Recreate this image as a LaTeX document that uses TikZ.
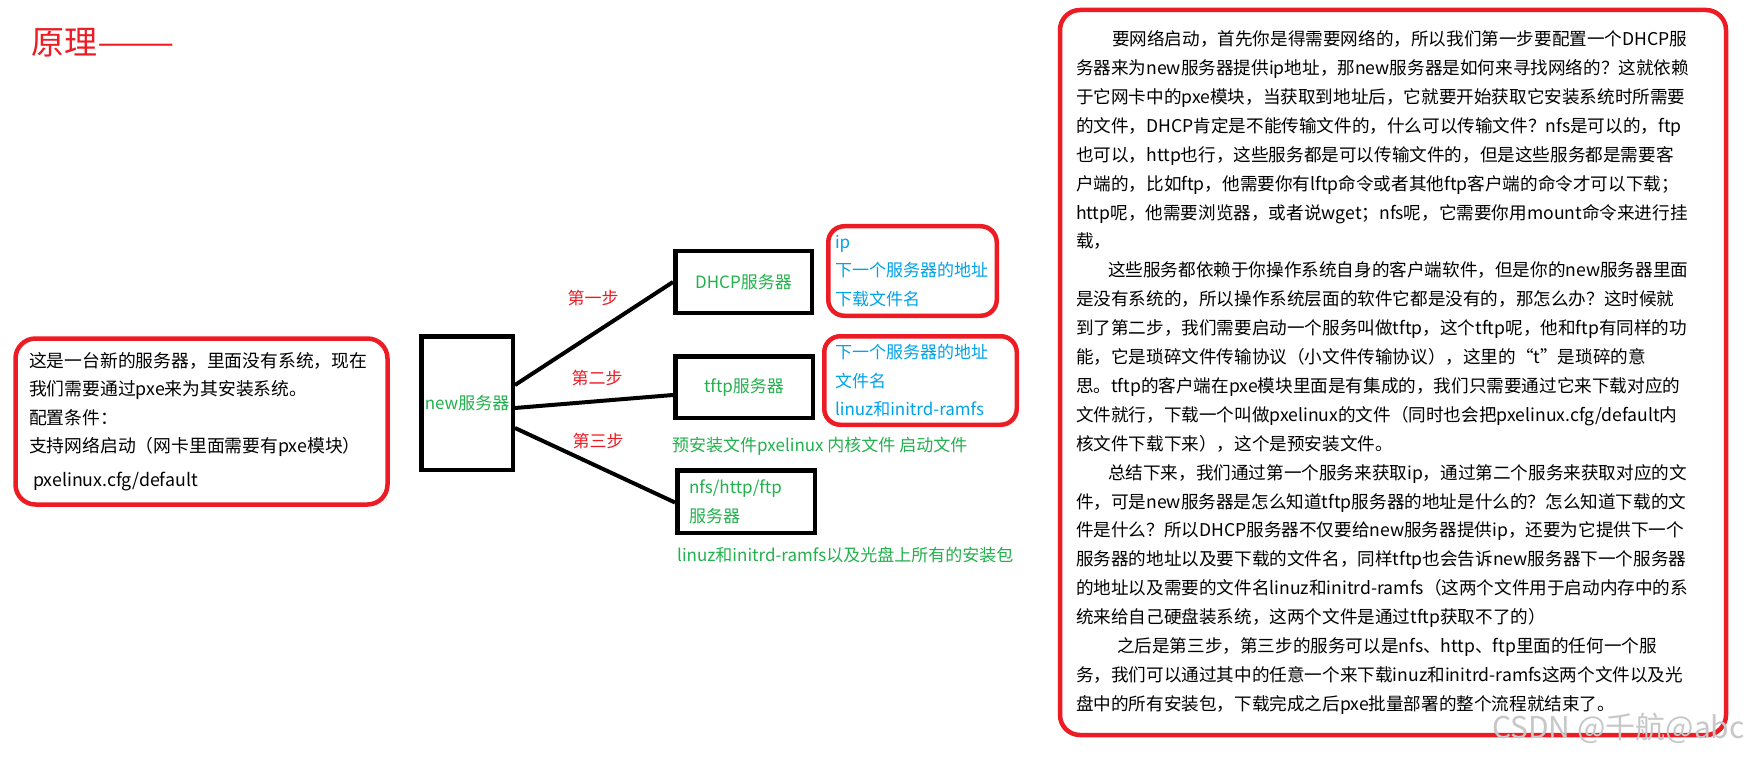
\documentclass[tikz,border=0pt]{standalone}
\usepackage{fontspec}
\setmainfont{Noto Sans CJK SC}
\definecolor{pred}{HTML}{ED1C24}
\definecolor{pgreen}{HTML}{22B14C}
\definecolor{pblue}{HTML}{00A2E8}
\begin{document}
\begin{tikzpicture}[x=1pt, y=-1pt,
  srv/.style={draw, line width=4.5pt, inner sep=0pt, text=pgreen, font=\fontsize{17}{29}\selectfont},
  note/.style={draw=pred, line width=4.5pt, rounded corners=16pt, inner sep=0pt, align=left},
  info/.style={note, text=pblue, font=\fontsize{17}{28.5}\selectfont},
  stepname/.style={text=pred, inner sep=0pt, font=\fontsize{17}{17}\selectfont},
  link/.style={line width=4pt},
  hint/.style={anchor=west, inner sep=0pt, text=pgreen, font=\fontsize{17}{17}\selectfont}]
\useasboundingbox[fill=white] (0,0) rectangle (1755,759);
\node[anchor=west, inner sep=0pt, text=pred, font=\fontsize{33}{33}\selectfont] (title) at (31,43) {原理\scalebox{1.4}[1]{——}};
% the new machine and what it needs
\node[note, rounded corners=20pt, minimum width=372pt, minimum height=166pt, text width=345pt,
  font=\fontsize{17.8}{28.5}\selectfont] (cfg) at (201.5,421.5)
  {这是一台新的服务器，里面没有系统，现在\\我们需要通过pxe来为其安装系统。\\配置条件：\\支持网络启动（网卡里面需要有pxe模块）\\[5pt]\hspace*{4pt}pxelinux.cfg/default};
% servers
\node[srv, minimum width=91.5pt, minimum height=133.5pt] (new) at (467,403) {new服务器};
\node[srv, minimum width=136.5pt, minimum height=61.5pt] (dhcp) at (743.5,282) {DHCP服务器};
\node[srv, minimum width=137.5pt, minimum height=61.5pt] (tftp) at (744,387) {tftp服务器};
\node[srv, minimum width=137.5pt, minimum height=62.5pt, align=left, text width=114pt] (share) at (746,501.5) {nfs/http/ftp\\服务器};
\draw[link] ([yshift=18pt]new.east) -- (dhcp.west);
\draw[link] ([yshift=-5pt]new.east) -- ([yshift=-8pt]tftp.west);
\draw[link] ([yshift=-25pt]new.east) -- ([yshift=-1pt]share.west);
\node[stepname] (s1) at (593,298) {第一步};
\node[stepname] (s2) at (597,378) {第二步};
\node[stepname] (s3) at (598,441) {第三步};
% what each server hands over
\node[info, minimum width=168.5pt, minimum height=89.5pt, text width=155pt] (dhcpinfo) at (912.5,271)
  {ip\\下一个服务器的地址\\下载文件名};
\node[info, minimum width=192.5pt, minimum height=88.5pt, text width=171pt] (tftpinfo) at (920.5,380.5)
  {下一个服务器的地址\\文件名\\linuz和initrd-ramfs};
\node[hint] (preload) at (672,446) {预安装文件pxelinux 内核文件 启动文件};
\node[hint] (pkgs) at (677,555) {linuz和initrd-ramfs以及光盘上所有的安装包};
% explanation
\node[note, rounded corners=20pt, minimum width=666pt, minimum height=725pt, text width=634pt,
  font=\fontsize{17.6}{28.9}\selectfont] (desc) at (1393,372.5) {%
\hspace*{36pt}要网络启动，首先你是得需要网络的，所以我们第一步要配置一个DHCP服\\
务器来为new服务器提供ip地址，那new服务器是如何来寻找网络的？这就依赖\\
于它网卡中的pxe模块，当获取到地址后，它就要开始获取它安装系统时所需要\\
的文件，DHCP肯定是不能传输文件的，什么可以传输文件？nfs是可以的，ftp\\
也可以，http也行，这些服务都是可以传输文件的，但是这些服务都是需要客\\
户端的，比如ftp，他需要你有lftp命令或者其他ftp客户端的命令才可以下载；\\
http呢，他需要浏览器，或者说wget；nfs呢，它需要你用mount命令来进行挂\\
载，\\
\hspace*{32pt}这些服务都依赖于你操作系统自身的客户端软件，但是你的new服务器里面\\
是没有系统的，所以操作系统层面的软件它都是没有的，那怎么办？这时候就\\
到了第二步，我们需要启动一个服务叫做tftp，这个tftp呢，他和ftp有同样的功\\
能，它是琐碎文件传输协议（小文件传输协议），这里的“t”是琐碎的意\\
思。tftp的客户端在pxe模块里面是有集成的，我们只需要通过它来下载对应的\\
文件就行，下载一个叫做pxelinux的文件（同时也会把pxelinux.cfg/default内\\
核文件下载下来），这个是预安装文件。\\
\hspace*{32pt}总结下来，我们通过第一个服务来获取ip，通过第二个服务来获取对应的文\\
件，可是new服务器是怎么知道tftp服务器的地址是什么的？怎么知道下载的文\\
件是什么？所以DHCP服务器不仅要给new服务器提供ip，还要为它提供下一个\\
服务器的地址以及要下载的文件名，同样tftp也会告诉new服务器下一个服务器\\
的地址以及需要的文件名linuz和initrd-ramfs（这两个文件用于启动内存中的系\\
统来给自己硬盘装系统，这两个文件是通过tftp获取不了的）\\
\hspace*{41pt}之后是第三步，第三步的服务可以是nfs、http、ftp里面的任何一个服\\
务，我们可以通过其中的任意一个来下载inuz和initrd-ramfs这两个文件以及光\\
盘中的所有安装包，下载完成之后pxe批量部署的整个流程就结束了。};
\node[anchor=east, inner sep=0pt, text=black!22, font=\fontsize{30}{30}\selectfont] (mark) at (1745,728) {CSDN @千航@abc};
\end{tikzpicture}
\end{document}
